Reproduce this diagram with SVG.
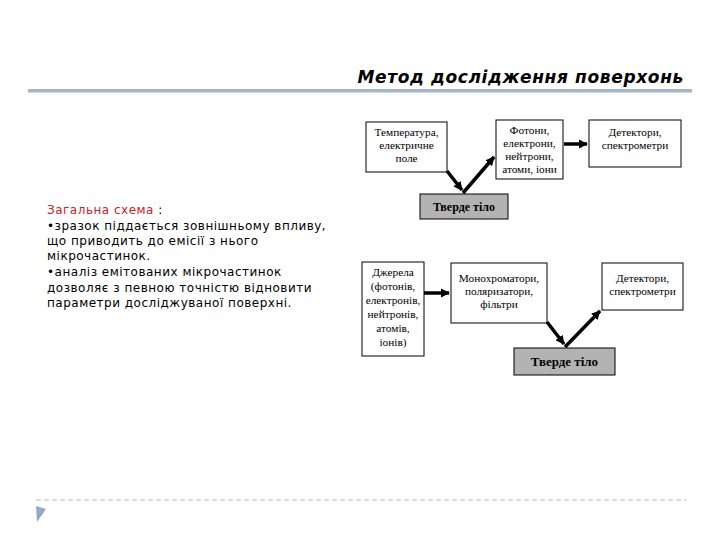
<svg xmlns="http://www.w3.org/2000/svg" width="720" height="540" viewBox="0 0 720 540">
<style>
.box{fill:#fff;stroke:#000;stroke-width:1}
.solid{fill:#b3b3b3;stroke:#000;stroke-width:1}
.bt{font-family:"Liberation Serif",serif;font-size:11.3px;fill:#000;text-anchor:middle}
.bb{font-family:"Liberation Serif",serif;font-weight:bold;fill:#000;text-anchor:middle}
.body{font-family:"DejaVu Sans",sans-serif;font-size:12px;letter-spacing:0.5px;fill:#000}
.con{stroke:#000;stroke-width:3.5;fill:none}
</style>
<defs>
<marker id="ah" viewBox="0 0 10 10" refX="9" refY="5" markerWidth="2.6" markerHeight="2.6" orient="auto" markerUnits="strokeWidth">
<path d="M0,0 L10,5 L0,10 z" fill="#000"/>
</marker>
</defs>
<rect width="720" height="540" fill="#fff"/>
<g id="header">
<text x="684" y="83" font-family="DejaVu Sans,sans-serif" font-size="17" font-weight="bold" font-style="italic" letter-spacing="0.65" text-anchor="end" fill="#000">Метод дослідження поверхонь</text>
<rect x="28" y="89" width="664" height="3.5" fill="#a6b6c7"/>
</g>
<g id="text">
<text class="body" x="47" y="214"><tspan fill="#cc2222">Загальна схема </tspan>:</text>
<text class="body" x="47" y="230">•зразок піддається зовнішньому впливу,</text>
<text class="body" x="47" y="245">що приводить до емісії з нього</text>
<text class="body" x="47" y="260">мікрочастинок.</text>
<text class="body" x="47" y="276">•аналіз емітованих мікрочастинок</text>
<text class="body" x="47" y="292">дозволяє з певною точністю відновити</text>
<text class="body" x="47" y="307">параметри досліджуваної поверхні.</text>
</g>
<g id="t1">
<rect class="box" x="366" y="122" width="81" height="50"/>
<text class="bt" x="406.5" y="136">Температура,</text>
<text class="bt" x="406.5" y="149">електричне</text>
<text class="bt" x="406.5" y="162">поле</text>
</g>
<g id="t2">
<rect class="box" x="496" y="120" width="67" height="59"/>
<text class="bt" x="529.5" y="134">Фотони,</text>
<text class="bt" x="529.5" y="147">електрони,</text>
<text class="bt" x="529.5" y="160">нейтрони,</text>
<text class="bt" x="529.5" y="173">атоми, іони</text>
</g>
<g id="t3">
<rect class="box" x="589" y="120" width="92" height="47"/>
<text class="bt" x="635" y="136">Детектори,</text>
<text class="bt" x="635" y="149">спектрометри</text>
</g>
<g id="t4">
<rect class="solid" x="420" y="194" width="88" height="25"/>
<text class="bb" x="464" y="211" font-size="12">Тверде тіло</text>
</g>
<g id="b1">
<rect class="box" x="362" y="262" width="62" height="94"/>
<text class="bt" x="393" y="276">Джерела</text>
<text class="bt" x="393" y="290">(фотонів,</text>
<text class="bt" x="393" y="304">електронів,</text>
<text class="bt" x="393" y="318">нейтронів,</text>
<text class="bt" x="393" y="332">атомів,</text>
<text class="bt" x="393" y="346">іонів)</text>
</g>
<g id="b2">
<rect class="box" x="451" y="263" width="96" height="60"/>
<text class="bt" x="499" y="282">Монохроматори,</text>
<text class="bt" x="499" y="295">поляризатори,</text>
<text class="bt" x="499" y="308">фільтри</text>
</g>
<g id="b3">
<rect class="box" x="602" y="263" width="81" height="47"/>
<text class="bt" x="642.5" y="282">Детектори,</text>
<text class="bt" x="642.5" y="295">спектрометри</text>
</g>
<g id="b4">
<rect class="solid" x="514" y="348" width="101" height="27"/>
<text class="bb" x="564.5" y="366" font-size="13">Тверде тіло</text>
</g>
<g id="connectors">
<line class="con" x1="447" y1="171" x2="462" y2="190" marker-end="url(#ah)"/>
<line class="con" x1="463" y1="193" x2="494" y2="157" marker-end="url(#ah)"/>
<line class="con" x1="564" y1="144" x2="587" y2="144" marker-end="url(#ah)"/>
<line class="con" x1="424" y1="293" x2="449" y2="293" marker-end="url(#ah)"/>
<line class="con" x1="547" y1="322" x2="564" y2="344" marker-end="url(#ah)"/>
<line class="con" x1="565" y1="347" x2="600" y2="311" marker-end="url(#ah)"/>
</g>
<g id="footer">
<line x1="36" y1="500" x2="686" y2="500" stroke="#a6b6c7" stroke-width="1" stroke-dasharray="5,3"/>
<polygon points="36,506 46,509 37,522" fill="#94aac4"/>
</g>
</svg>
